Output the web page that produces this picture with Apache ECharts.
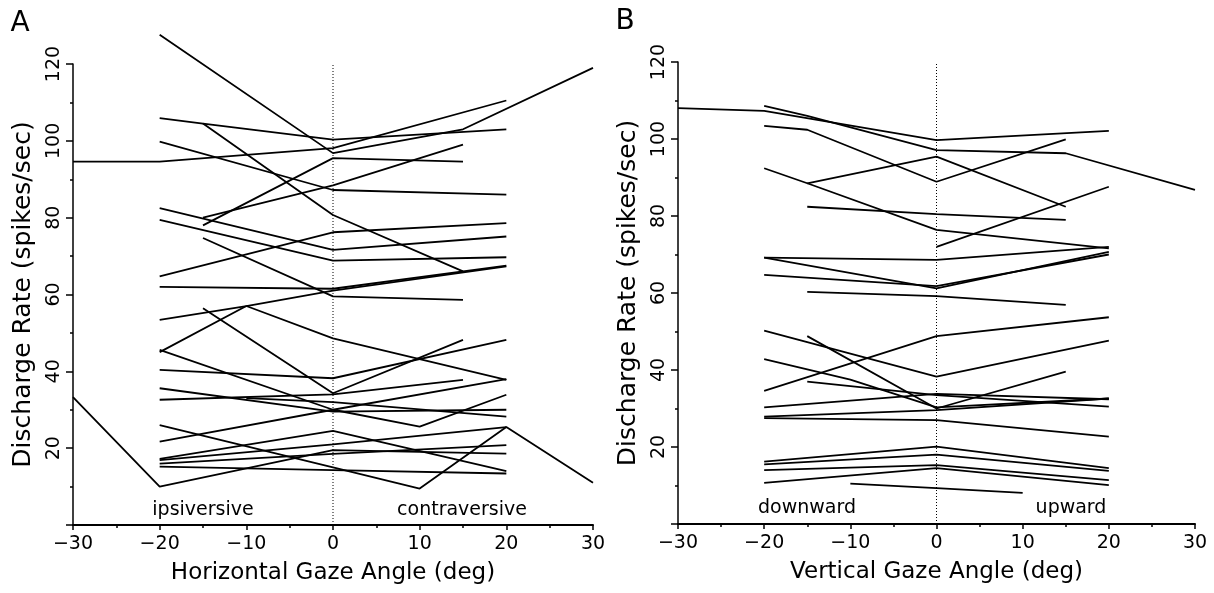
<!DOCTYPE html>
<html><head><meta charset="utf-8">
<script src="https://cdn.jsdelivr.net/npm/echarts@6/dist/echarts.min.js"></script>
<style>html,body{margin:0;padding:0;background:#fff}#c{width:1214px;height:593px}</style>
</head><body><div id="c"></div>
<script>
// ---- tick values ----
const xTickValues = [-30, -20, -10, 0, 10, 20, 30];
const yTickValues = [20, 40, 60, 80, 100, 120];

// ---- Panel A: horizontal gaze angle (deg) vs discharge rate (spikes/sec), one array per unit ----
const hUnit01 = [[-20,127.6],[0,96.8],[15,103],[30,119]];
const hUnit02 = [[-20,105.9],[-15,104.5],[0,100.3],[20,103]];
const hUnit03 = [[-15,104.5],[0,80.7],[15,66]];
const hUnit04 = [[-20,99.8],[0,87.2],[20,86]];
const hUnit05 = [[-30,94.6],[-20,94.6],[0,98.1],[20,110.5]];
const hUnit06 = [[-15,78],[0,95.5],[15,94.6]];
const hUnit07 = [[-15,80],[0,88.4],[15,99]];
const hUnit08 = [[-20,82.5],[0,71.6],[20,75.1]];
const hUnit09 = [[-20,79.4],[0,68.8],[20,69.7]];
const hUnit10 = [[-20,64.7],[0,76.2],[20,78.6]];
const hUnit11 = [[-20,62],[0,61.5],[20,67.5]];
const hUnit12 = [[-20,53.4],[-10,57],[0,61],[20,67.3]];
const hUnit13 = [[-15,74.7],[0,59.5],[15,58.6]];
const hUnit14 = [[-20,45],[-10,57],[0,48.6],[20,37.8]];
const hUnit15 = [[-15,56.4],[0,34.3],[15,48.2]];
const hUnit16 = [[-20,40.4],[0,38.2],[20,48.2]];
const hUnit17 = [[-20,45.6],[0,30],[10,25.6],[20,33.9]];
const hUnit18 = [[-20,35.6],[0,29.5],[20,30]];
const hUnit19 = [[-20,32.6],[0,34],[15,37.8]];
const hUnit20 = [[-20,21.7],[0,30],[20,38]];
const hUnit21 = [[-20,26],[0,15],[10,9.5],[20,25.5],[30,11]];
const hUnit22 = [[-30,33.3],[-20,10],[0,19.5],[20,18.6]];
const hUnit23 = [[-20,16.9],[0,21],[20,25.5]];
const hUnit24 = [[-20,16],[0,18.5],[20,20.8]];
const hUnit25 = [[-20,15.2],[0,14.3],[20,13.4]];
const hUnit26 = [[-10,33],[0,32],[20,28.2]];
const hUnit27 = [[-20,17.2],[0,24.5],[20,14]];

// ---- Panel B: vertical gaze angle (deg) vs discharge rate ----
const vUnit01 = [[-30,108],[-20,107.3],[0,99.7],[20,102.1]];
const vUnit02 = [[-20,108.6],[-15,106],[0,97.1],[15,96.3],[30,86.8]];
const vUnit03 = [[-20,103.4],[-15,102.4],[0,88.9],[15,99.9]];
const vUnit04 = [[-15,88.5],[0,95.4],[15,82.4]];
const vUnit05 = [[-20,92.4],[-15,88.5],[0,76.4],[20,71.6]];
const vUnit06 = [[0,72],[20,87.6]];
const vUnit07 = [[-15,82.4],[0,80.5],[15,79]];
const vUnit08 = [[-20,69.2],[0,68.6],[20,72]];
const vUnit09 = [[-20,69.2],[0,61.2],[20,70.7]];
const vUnit10 = [[-20,64.7],[0,61.8],[20,70]];
const vUnit11 = [[-15,60.3],[0,59.2],[15,56.9]];
const vUnit12 = [[-20,34.6],[0,48.8],[20,53.7]];
const vUnit13 = [[-20,50.2],[0,38.3],[20,47.6]];
const vUnit14 = [[-15,48.8],[0,30],[15,39.6]];
const vUnit15 = [[-20,42.8],[-10,37.5],[0,30.3],[20,32.6]];
const vUnit16 = [[-15,37],[0,33.5],[20,30.5]];
const vUnit17 = [[-20,30.3],[0,33.8],[20,32.4]];
const vUnit18 = [[-20,27.9],[0,29.6],[20,32.6]];
const vUnit19 = [[-20,27.5],[0,27],[20,22.7]];
const vUnit20 = [[-20,16.2],[0,20.1],[20,14.5]];
const vUnit21 = [[-20,15.5],[0,18],[20,13.8]];
const vUnit22 = [[-20,14],[0,15.3],[20,11.4]];
const vUnit23 = [[-20,10.7],[0,14.5],[20,10.1]];
const vUnit24 = [[-10,10.5],[0,9.3],[10,8.1]];

// zero-gaze reference line (deg, rate)
const zeroLine = [[0,0],[0,120]];

const horizUnits = [hUnit01,hUnit02,hUnit03,hUnit04,hUnit05,hUnit06,hUnit07,hUnit08,hUnit09,hUnit10,
  hUnit11,hUnit12,hUnit13,hUnit14,hUnit15,hUnit16,hUnit17,hUnit18,hUnit19,hUnit20,
  hUnit21,hUnit22,hUnit23,hUnit24,hUnit25,hUnit26,hUnit27];
const vertUnits = [vUnit01,vUnit02,vUnit03,vUnit04,vUnit05,vUnit06,vUnit07,vUnit08,vUnit09,vUnit10,
  vUnit11,vUnit12,vUnit13,vUnit14,vUnit15,vUnit16,vUnit17,vUnit18,vUnit19,vUnit20,
  vUnit21,vUnit22,vUnit23,vUnit24];

const FONT = '"DejaVu Sans", "Liberation Sans", sans-serif';

function xAxisCfg(idx, title) {
  return {
    type: 'value', gridIndex: idx, min: -30, max: 30, interval: 10,
    name: title, nameLocation: 'middle', nameGap: 37,
    nameTextStyle: { fontFamily: FONT, fontSize: 23, color: '#000' },
    axisLine: { show: true, lineStyle: { color: '#000', width: 2 } },
    axisTick: { show: true, length: 5, lineStyle: { color: '#000', width: 1.5 } },
    minorTick: { show: true, splitNumber: 2, length: 3, lineStyle: { color: '#000', width: 1.5 } },
    splitLine: { show: false },
    axisLabel: {
      margin: 10, fontFamily: FONT, fontSize: 19, color: '#000',
      formatter: v => xTickValues.includes(v) ? (v < 0 ? '\u2212' + Math.abs(v) : String(v)) : ''
    }
  };
}
function yAxisCfg(idx) {
  return {
    type: 'value', gridIndex: idx, min: 0, max: 120, interval: 20,
    name: 'Discharge Rate (spikes/sec)', nameLocation: 'middle', nameGap: 37, nameRotate: 90,
    nameTextStyle: { fontFamily: FONT, fontSize: 25, color: '#000' },
    axisLine: { show: true, onZero: false, lineStyle: { color: '#000', width: 1.5 } },
    axisTick: { show: true, length: 7, lineStyle: { color: '#000', width: 1.5 } },
    minorTick: { show: true, splitNumber: 2, length: 3, lineStyle: { color: '#000', width: 1.5 } },
    splitLine: { show: false },
    axisLabel: {
      rotate: 90, margin: 9, fontFamily: FONT, fontSize: 19, color: '#000',
      formatter: v => yTickValues.includes(v) ? String(v) : ''
    }
  };
}

function unitSeries(units, idx) {
  return units.map(d => ({
    type: 'line', xAxisIndex: idx, yAxisIndex: idx, data: d,
    symbol: 'none', silent: true, animation: false, clip: false,
    lineStyle: { color: '#000', width: 1.8 }
  }));
}
function zeroSeries(idx) {
  return {
    type: 'line', xAxisIndex: idx, yAxisIndex: idx, data: zeroLine,
    symbol: 'none', silent: true, animation: false, z: 1,
    lineStyle: { color: '#000', width: 1, type: [1, 2] }
  };
}

function txt(x, y, s, size) {
  return { type: 'text', x: x, y: y, silent: true,
    style: { text: s, font: size + 'px ' + FONT, fill: '#000',
      textAlign: 'center', textVerticalAlign: 'middle', align: 'center', verticalAlign: 'middle' } };
}

const chart = echarts.init(document.getElementById('c'), null, { renderer: 'canvas' });
chart.setOption({
  backgroundColor: '#fff',
  animation: false,
  grid: [
    { left: 73, top: 64, width: 520, height: 461 },
    { left: 678, top: 62, width: 517, height: 462 }
  ],
  xAxis: [xAxisCfg(0, 'Horizontal Gaze Angle (deg)'), xAxisCfg(1, 'Vertical Gaze Angle (deg)')],
  yAxis: [yAxisCfg(0), yAxisCfg(1)],
  series: [zeroSeries(0), zeroSeries(1)].concat(unitSeries(horizUnits, 0), unitSeries(vertUnits, 1)),
  graphic: [
    txt(20, 24, 'A', 28),
    txt(625, 22, 'B', 28),
    txt(203, 510, 'ipsiversive', 19),
    txt(462, 510, 'contraversive', 19),
    txt(807, 508, 'downward', 19),
    txt(1071, 508, 'upward', 19)
  ]
});
</script></body></html>
